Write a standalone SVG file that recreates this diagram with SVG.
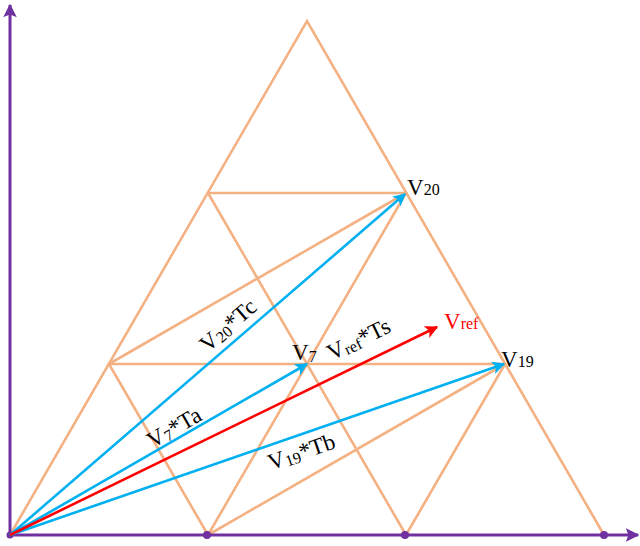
<svg xmlns="http://www.w3.org/2000/svg" width="640" height="546" viewBox="0 0 640 546">
<defs>
<style>
.grid{stroke:#F4B183;stroke-width:2.6;fill:none;stroke-linecap:round}
.axis{stroke:#7030A0;stroke-width:3;fill:none}
.vb{stroke:#00B0F0;stroke-width:2.6;fill:none}
.vr{stroke:#FF0000;stroke-width:2.6;fill:none}
text{font-family:"Liberation Serif","Times New Roman",serif;fill:#000}
.big{font-size:23px}
.sub{font-size:16px}
.red{fill:#FF0000}
</style>
<marker id="ab" viewBox="0 0 10 10" refX="9" refY="5" markerWidth="5" markerHeight="5" orient="auto" markerUnits="strokeWidth"><path d="M0,0 L10,5 L0,10 L2.5,5 z" fill="#00B0F0"/></marker>
<marker id="ar" viewBox="0 0 10 10" refX="9" refY="5" markerWidth="5" markerHeight="5" orient="auto" markerUnits="strokeWidth"><path d="M0,0 L10,5 L0,10 L2.5,5 z" fill="#FF0000"/></marker>
<marker id="ap" viewBox="0 0 10 10" refX="9" refY="5" markerWidth="4.5" markerHeight="4.5" orient="auto" markerUnits="strokeWidth"><path d="M0,0 L10,5 L0,10 L2,5 z" fill="#7030A0"/></marker>
</defs>
<rect width="640" height="546" fill="#fff"/>
<g id="grid">
<path class="grid" d="M10,535 L307,21 L604,535"/>
<path class="grid" d="M109,364 L505,364 M208,193 L406,193"/>
<path class="grid" d="M208,193 L406,535 M109,364 L208,535"/>
<path class="grid" d="M208,535 L406,193 M406,535 L505,364"/>
<path class="grid" d="M109,364 L406,193 M208,535 L505,364"/>
</g>
<g id="axes">
<line class="axis" x1="10" y1="535" x2="10" y2="5" marker-end="url(#ap)"/>
<line class="axis" x1="10" y1="535" x2="638" y2="535" marker-end="url(#ap)"/>
<g fill="#7030A0">
<circle cx="10" cy="535" r="3.5"/>
<circle cx="207" cy="535" r="4"/>
<circle cx="405" cy="535" r="4"/>
<circle cx="604" cy="535" r="4"/>
</g>
</g>
<g id="connectors">
<line class="vb" x1="10" y1="535" x2="405" y2="194" marker-end="url(#ab)"/>
<line class="vb" x1="10" y1="535" x2="307" y2="364" marker-end="url(#ab)"/>
<line class="vb" x1="10" y1="535" x2="504" y2="364" marker-end="url(#ab)"/>
<line class="vr" x1="10" y1="535" x2="437" y2="327" marker-end="url(#ar)"/>
</g>
<g id="node-V20"><text x="407" y="195"><tspan class="big">V</tspan><tspan class="sub">20</tspan></text></g>
<g id="node-V7"><text x="292" y="360"><tspan class="big">V</tspan><tspan class="sub" dy="2">7</tspan></text></g>
<g id="node-V19"><text x="501" y="367"><tspan class="big">V</tspan><tspan class="sub">19</tspan></text></g>
<g id="node-Vref"><text x="444" y="329" class="red"><tspan class="big">V</tspan><tspan class="sub">ref</tspan></text></g>
<g id="label-Tc"><text transform="translate(233,331) rotate(-41)" text-anchor="middle"><tspan class="big">V</tspan><tspan class="sub" dy="2">20</tspan><tspan class="big" dy="-2">*Tc</tspan></text></g>
<g id="label-Ta"><text transform="translate(178,434) rotate(-30)" text-anchor="middle"><tspan class="big">V</tspan><tspan class="sub" dy="2">7</tspan><tspan class="big" dy="-2">*Ta</tspan></text></g>
<g id="label-Ts"><text transform="translate(362,346) rotate(-26)" text-anchor="middle"><tspan class="big">V</tspan><tspan class="sub" dy="2">ref</tspan><tspan class="big" dy="-2">*Ts</tspan></text></g>
<g id="label-Tb"><text transform="translate(304,459) rotate(-19)" text-anchor="middle"><tspan class="big">V</tspan><tspan class="sub" dy="2">19</tspan><tspan class="big" dy="-2">*Tb</tspan></text></g>
</svg>
